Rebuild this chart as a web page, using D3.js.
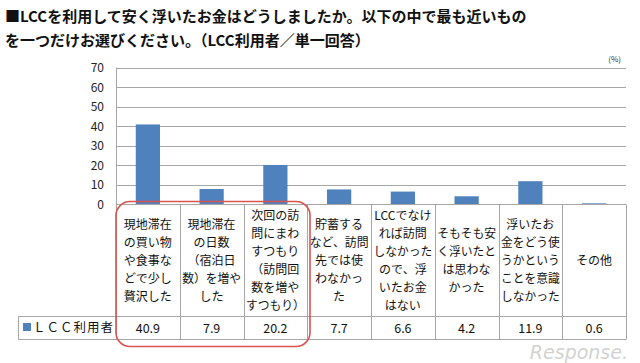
<!DOCTYPE html>
<html>
<head>
<meta charset="utf-8">
<script src="https://cdn.jsdelivr.net/npm/d3@7"></script>
<style>
  body { margin: 0; background: #fff; }
  svg { font-family: "Noto Sans CJK JP", "Noto Sans", sans-serif; }
</style>
</head>
<body>
<svg width="640" height="363"></svg>
<script>
const categories = [
  ["現地滞在", "の買い物", "や食事な", "どで少し", "贅沢した"],
  ["現地滞在", "の日数", "（宿泊日", "数）を増や", "した"],
  ["次回の訪", "問にまわ", "すつもり", "（訪問回", "数を増や", "すつもり）"],
  ["貯蓄する", "など、訪問", "先では使", "わなかっ", "た"],
  ["LCCでなけ", "れば訪問", "しなかった", "ので、浮", "いたお金", "はない"],
  ["そもそも安", "く浮いたと", "は思わな", "かった"],
  ["浮いたお", "金をどう使", "うかという", "ことを意識", "しなかった"],
  ["その他"]
];
const values = [40.9, 7.9, 20.2, 7.7, 6.6, 4.2, 11.9, 0.6];
const yTicks = [0, 10, 20, 30, 40, 50, 60, 70];
const seriesName = "ＬＣＣ利用者";

const svg = d3.select("svg");
const plotLeft = 116, plotRight = 626, plotTop = 67.5, axisY = 204.5;
const headerBottom = 316.5, rowBottom = 339.5, legendLeft = 18.5;

const x = d3.scaleBand().domain(d3.range(values.length)).range([plotLeft, plotRight]);
const y = d3.scaleLinear().domain([0, 70]).range([axisY, plotTop]);

// title
const title = svg.append("g").attr("font-weight", "bold").attr("font-size", 15).attr("fill", "#111");
title.append("text").attr("x", 5).attr("y", 22).text("■LCCを利用して安く浮いたお金はどうしましたか。以下の中で最も近いもの");
title.append("text").attr("x", 5).attr("y", 46).text("を一つだけお選びください。（LCC利用者／単一回答）");

svg.append("text").attr("x", 621).attr("y", 62).attr("text-anchor", "end")
  .attr("font-size", 8).attr("fill", "#333").text("(%)");

// grid
svg.append("g").selectAll("line").data(yTicks.filter(d => d > 0)).join("line")
  .attr("x1", plotLeft).attr("x2", plotRight)
  .attr("y1", d => Math.round(y(d)) + 0.5).attr("y2", d => Math.round(y(d)) + 0.5)
  .attr("stroke", "#a6a6a6");

// y axis labels
svg.append("g").selectAll("text").data(yTicks).join("text")
  .attr("x", 104).attr("y", d => y(d) + 4.5).attr("text-anchor", "end")
  .attr("font-size", 12).attr("fill", "#222").text(d => d);

svg.append("line").attr("x1", plotLeft + 0.5).attr("x2", plotLeft + 0.5).attr("y1", plotTop).attr("y2", axisY)
  .attr("stroke", "#a6a6a6");

// bars
const bw = x.bandwidth() * 0.38;
svg.append("g").selectAll("rect").data(values).join("rect")
  .attr("x", (d, i) => x(i) + (x.bandwidth() - bw) / 2)
  .attr("y", d => y(d)).attr("width", bw).attr("height", d => axisY - y(d))
  .attr("fill", "#4f81bd");

// table
const grid = svg.append("g").attr("stroke", "#a6a6a6").attr("fill", "none");
grid.append("line").attr("x1", plotLeft).attr("x2", plotRight).attr("y1", axisY).attr("y2", axisY);
grid.append("line").attr("x1", legendLeft).attr("x2", plotRight).attr("y1", headerBottom).attr("y2", headerBottom);
grid.append("line").attr("x1", legendLeft).attr("x2", plotRight).attr("y1", rowBottom).attr("y2", rowBottom);
grid.append("line").attr("x1", legendLeft).attr("x2", legendLeft).attr("y1", headerBottom).attr("y2", rowBottom);
grid.selectAll("line.v").data(d3.range(values.length + 1)).join("line").attr("class", "v")
  .attr("x1", i => Math.round(i < values.length ? x(i) : plotRight) + 0.5)
  .attr("x2", i => Math.round(i < values.length ? x(i) : plotRight) + 0.5)
  .attr("y1", axisY).attr("y2", rowBottom);

// header text, squeezed to fit the cell when a line is too wide
const lineH = 18;
const headerMid = (axisY + headerBottom) / 2;
const maxW = x.bandwidth() - 5;
categories.forEach((lines, i) => {
  const cx = x(i) + x.bandwidth() / 2;
  const y0 = headerMid - (lines.length - 1) * lineH / 2;
  svg.append("g").selectAll("text").data(lines).join("text")
    .attr("x", cx).attr("y", (d, j) => y0 + j * lineH + 4.5)
    .attr("text-anchor", "middle").attr("font-size", 12).attr("fill", "#111")
    .text(d => d)
    .each(function () {
      if (this.getComputedTextLength() > maxW) {
        d3.select(this).attr("textLength", maxW).attr("lengthAdjust", "spacingAndGlyphs");
      }
    });
});

// values row
svg.append("g").selectAll("text").data(values).join("text")
  .attr("x", (d, i) => x(i) + x.bandwidth() / 2).attr("y", (headerBottom + rowBottom) / 2 + 4.5)
  .attr("text-anchor", "middle").attr("font-size", 12.5).attr("fill", "#111")
  .text(d => d.toFixed(1));

// legend cell
svg.append("rect").attr("x", 23).attr("y", 323).attr("width", 8).attr("height", 8).attr("fill", "#4f81bd");
svg.append("text").attr("x", 33).attr("y", 332).attr("font-size", 12.5).attr("fill", "#111")
  .attr("letter-spacing", 1).text(seriesName);

// highlight
svg.append("rect").attr("x", 116).attr("y", 201.5).attr("width", 194).attr("height", 145)
  .attr("rx", 14).attr("fill", "none").attr("stroke", "#d9534f").attr("stroke-width", 1.6);

// watermark
svg.append("text").attr("x", 628).attr("y", 359).attr("text-anchor", "end")
  .attr("font-size", 19).attr("font-style", "italic").attr("fill", "#c8c8c8").attr("opacity", 0.8)
  .attr("font-family", "DejaVu Sans").text("Response.");
</script>
</body>
</html>
